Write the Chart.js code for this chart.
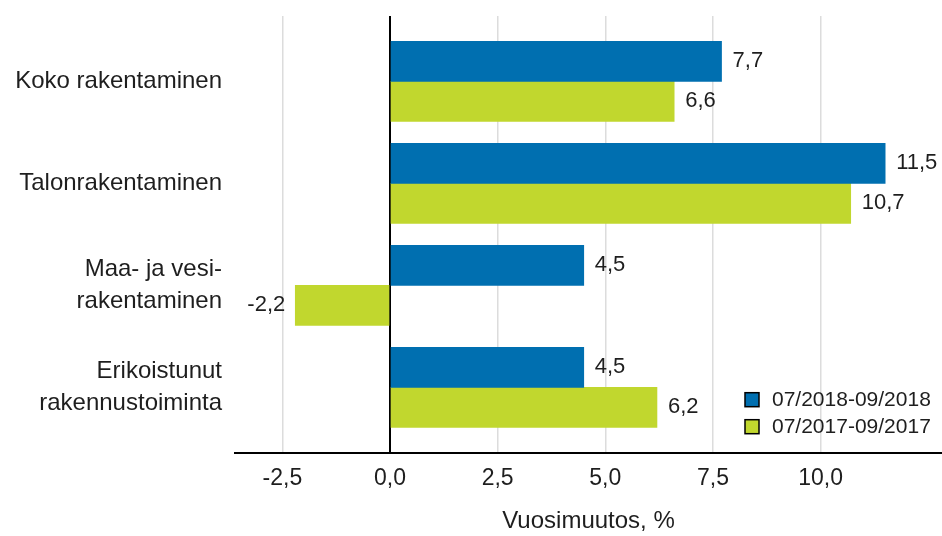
<!DOCTYPE html>
<html>
<head>
<meta charset="utf-8">
<script src="https://cdn.jsdelivr.net/npm/chart.js@4/dist/chart.umd.min.js"></script>
<style>
  html, body { margin: 0; padding: 0; background: #fff; }
  #wrap { width: 942px; height: 536px; position: relative; }
</style>
</head>
<body>
<div id="wrap"><canvas id="c"></canvas></div>
<script>
const categories = [
  ["Koko rakentaminen"],
  ["Talonrakentaminen"],
  ["Maa- ja vesi-", "rakentaminen"],
  ["Erikoistunut", "rakennustoiminta"]
];
const seriesNames = ["07/2018-09/2018", "07/2017-09/2017"];
const values2018 = [7.7, 11.5, 4.5, 4.5];
const values2017 = [6.6, 10.7, -2.2, 6.2];
const xTickValues = [-2.5, 0, 2.5, 5, 7.5, 10];
const xAxisTitle = "Vuosimuutos, %";

const BLUE = '#006fb0';
const GREEN = '#c1d72e';
const FONT = '"Liberation Sans", Arial, Helvetica, sans-serif';
const TEXT = '#1e1e1e';

const fmt = v => v.toFixed(1).replace('.', ',');

const valueLabels = {
  id: 'valueLabels',
  afterDatasetsDraw(chart) {
    const ctx = chart.ctx;
    ctx.save();
    ctx.font = '22px ' + FONT;
    ctx.fillStyle = TEXT;
    ctx.textBaseline = 'middle';
    chart.data.datasets.forEach((ds, di) => {
      const meta = chart.getDatasetMeta(di);
      meta.data.forEach((el, i) => {
        const v = ds.data[i].x;
        const p = el.getProps(['x', 'y'], true);
        if (v >= 0) {
          ctx.textAlign = 'left';
          ctx.fillText(fmt(v), p.x + 11, p.y);
        } else {
          ctx.textAlign = 'right';
          ctx.fillText(fmt(v), p.x - 10, p.y);
        }
      });
    });
    ctx.restore();
  }
};

const boxLegend = {
  id: 'boxLegend',
  afterDraw(chart) {
    const ctx = chart.ctx;
    const a = chart.chartArea;
    ctx.save();
    ctx.font = '21px ' + FONT;
    ctx.textBaseline = 'middle';
    ctx.textAlign = 'left';
    chart.data.datasets.forEach((ds, i) => {
      const bx = a.right - 197;
      const by = a.bottom - 60 + i * 27;
      ctx.fillStyle = ds.backgroundColor;
      ctx.fillRect(bx, by, 14, 14);
      ctx.strokeStyle = '#000';
      ctx.lineWidth = 1.5;
      ctx.strokeRect(bx, by, 14, 14);
      ctx.fillStyle = TEXT;
      ctx.fillText(ds.label, bx + 27, by + 8);
    });
    ctx.restore();
  }
};

new Chart(document.getElementById('c'), {
  type: 'bar',
  data: {
    datasets: [
      { label: seriesNames[0], data: values2018.map((v, i) => ({ x: v, y: i })), backgroundColor: BLUE },
      { label: seriesNames[1], data: values2017.map((v, i) => ({ x: v, y: i })), backgroundColor: GREEN }
    ]
  },
  options: {
    indexAxis: 'y',
    responsive: true,
    maintainAspectRatio: false,
    devicePixelRatio: 1,
    animation: false,
    layout: { padding: { top: 16, right: 0, bottom: 0, left: 0 } },
    datasets: { bar: { barThickness: 40, grouped: true } },
    plugins: { legend: { display: false }, tooltip: { enabled: false } },
    scales: {
      x: {
        type: 'linear',
        min: -3.6,
        max: 12.82,
        afterBuildTicks: axis => { axis.ticks = xTickValues.map(v => ({ value: v })); },
        afterFit: axis => { axis.height = 83.3; axis.paddingLeft = 0; axis.paddingRight = 0; },
        ticks: {
          callback: v => fmt(v),
          font: { family: FONT, size: 23 },
          color: TEXT,
          padding: 12,
          maxRotation: 0,
          autoSkip: false
        },
        grid: {
          drawTicks: false,
          color: c => (c.tick && c.tick.value === 0) ? '#000' : '#dcdcdc',
          lineWidth: c => (c.tick && c.tick.value === 0) ? 2 : 1.5
        },
        border: { display: true, color: '#000', width: 2 },
        title: {
          display: true,
          text: xAxisTitle,
          font: { family: FONT, size: 24 },
          color: TEXT,
          padding: { top: 0, bottom: 0 }
        }
      },
      y: {
        type: 'linear',
        reverse: true,
        offset: false,
        grace: 0,
        min: -0.64,
        max: 3.64,
        afterBuildTicks: axis => { axis.ticks = categories.map((c, i) => ({ value: i })); },
        afterFit: axis => { axis.width = 235; axis.paddingTop = 0; axis.paddingBottom = 0; },
        ticks: {
          callback: v => categories[v],
          font: { family: FONT, size: 24, lineHeight: 1.3 },
          color: TEXT,
          padding: 13,
          autoSkip: false
        },
        grid: { display: false, drawTicks: false },
        border: { display: false }
      }
    }
  },
  plugins: [valueLabels, boxLegend]
});
</script>
</body>
</html>
